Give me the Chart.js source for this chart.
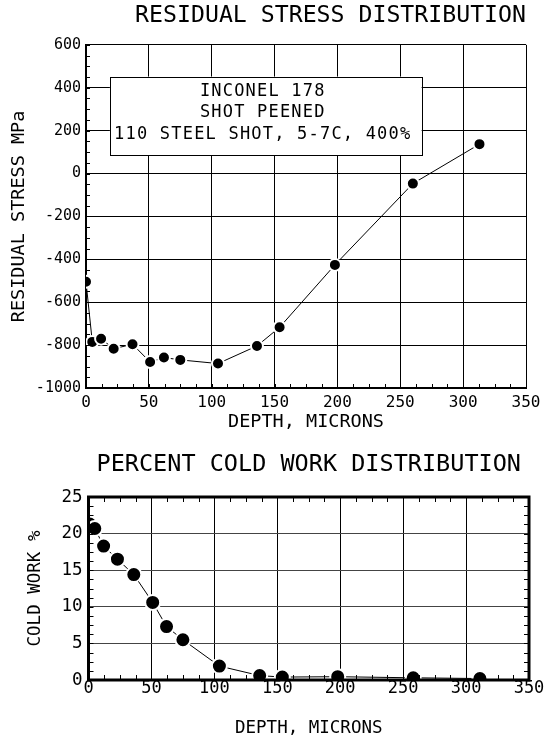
<!DOCTYPE html>
<html>
<head>
<meta charset="utf-8">
<script src="https://cdn.jsdelivr.net/npm/chart.js@4.4.0/dist/chart.umd.min.js"></script>
<style>
html,body{margin:0;padding:0;background:#fff;}
canvas{display:block;}
</style>
</head>
<body>
<canvas id="stressChart" width="547" height="440"></canvas>
<canvas id="coldChart" width="547" height="300"></canvas>
<script>
// residual stress vs depth
var stressDepth = [0, 5, 12, 22, 37, 51, 62, 75, 105, 136, 154, 198, 260, 313];
var stressMPa = [-505, -785, -770, -817, -796, -879, -858, -869, -886, -804, -717, -426, -47, 137];
var stressTicks = [-1000, -800, -600, -400, -200, 0, 200, 400, 600];
var depthTicks = [0, 50, 100, 150, 200, 250, 300, 350];

// percent cold work vs depth
var coldDepth = [1, 5, 12, 23, 36, 51, 62, 75, 104, 136, 154, 198, 258, 311];
var coldWork = [21.3, 20.7, 18.3, 16.5, 14.4, 10.6, 7.3, 5.5, 1.9, 0.6, 0.4, 0.45, 0.3, 0.2];
var coldTicks = [0, 5, 10, 15, 20, 25];

var noteLines = ['INCONEL 178', 'SHOT PEENED', '110 STEEL SHOT, 5-7C, 400%'];

var mono = "'DejaVu Sans Mono', 'Liberation Mono', monospace";

function pairs(xs, ys) {
    return xs.map(function (x, i) { return {x: x, y: ys[i]}; });
}

function useTicks(list) {
    return function (scale) {
        scale.ticks = list.map(function (v) { return {value: v}; });
    };
}

// small inward tick marks + optional heavy frame
var minorTicks = {
    id: 'minorTicks',
    afterDatasetsDraw: function (chart, args, opts) {
        var ctx = chart.ctx, a = chart.chartArea;
        var xs = chart.scales.x, ys = chart.scales.y;
        var len = opts.len;
        ctx.save();
        ctx.strokeStyle = '#000';
        ctx.lineWidth = 1;
        ctx.beginPath();
        for (var v = xs.min; v <= xs.max + 0.001; v += opts.xStep) {
            var px = Math.round(xs.getPixelForValue(v)) + 0.5;
            ctx.moveTo(px, a.bottom);
            ctx.lineTo(px, a.bottom - len);
            if (opts.all) {
                ctx.moveTo(px, a.top);
                ctx.lineTo(px, a.top + len);
            }
        }
        for (var w = ys.min; w <= ys.max + 0.001; w += opts.yStep) {
            var py = Math.round(ys.getPixelForValue(w)) + 0.5;
            ctx.moveTo(a.left, py);
            ctx.lineTo(a.left + len, py);
            if (opts.all) {
                ctx.moveTo(a.right, py);
                ctx.lineTo(a.right - len, py);
            }
        }
        ctx.stroke();
        if (opts.frame) {
            ctx.lineWidth = opts.frame;
            ctx.strokeRect(a.left, a.top, a.right - a.left, a.bottom - a.top);
        }
        ctx.restore();
    }
};

// legend-like note box on the stress chart
var noteBox = {
    id: 'noteBox',
    beforeDatasetsDraw: function (chart) {
        if (chart.canvas.id !== 'stressChart') return;
        var ctx = chart.ctx, xs = chart.scales.x, ys = chart.scales.y;
        var l = xs.getPixelForValue(19), r = xs.getPixelForValue(267);
        var t = ys.getPixelForValue(452), b = ys.getPixelForValue(86);
        ctx.save();
        ctx.fillStyle = '#fff';
        ctx.fillRect(l, t, r - l, b - t);
        ctx.strokeStyle = '#000';
        ctx.lineWidth = 1;
        ctx.strokeRect(Math.round(l) + 0.5, Math.round(t) + 0.5, Math.round(r - l), Math.round(b - t));
        ctx.fillStyle = '#000';
        ctx.font = '17px ' + mono;
        ctx.letterSpacing = '1.2px';
        ctx.textAlign = 'center';
        ctx.textBaseline = 'middle';
        var rows = [0.19, 0.46, 0.74];
        noteLines.forEach(function (txt, i) {
            ctx.fillText(txt, (l + r) / 2 - 3, t + (b - t) * rows[i]);
        });
        ctx.restore();
    }
};

new Chart(document.getElementById('stressChart').getContext('2d'), {
    type: 'line',
    data: {
        datasets: [{
            data: pairs(stressDepth, stressMPa),
            borderColor: '#000',
            borderWidth: 1,
            pointRadius: 6,
            pointBackgroundColor: '#000',
            pointBorderColor: '#fff',
            pointBorderWidth: 2,
            clip: 0,
            tension: 0
        }]
    },
    options: {
        responsive: false,
        animation: false,
        layout: {padding: {left: 0, right: 21, top: 0, bottom: 0}},
        plugins: {
            legend: {display: false},
            tooltip: {enabled: false},
            title: {
                display: true,
                text: 'RESIDUAL STRESS DISTRIBUTION',
                color: '#000',
                fullSize: false,
                align: 'end',
                font: {family: mono, size: 23.2, weight: 'normal'},
                padding: {top: 2, bottom: 15}
            },
            minorTicks: {len: 4, xStep: 12.5, yStep: 50, all: false, frame: 0}
        },
        scales: {
            x: {
                type: 'linear', min: 0, max: 350,
                afterBuildTicks: useTicks(depthTicks),
                afterFit: function (s) { s.height = 52; },
                grid: {color: '#000', lineWidth: 1, drawTicks: false},
                border: {color: '#000', width: 2},
                ticks: {
                    color: '#000', padding: 5, maxRotation: 0, autoSkip: false,
                    font: {family: mono, size: 16},
                    callback: function (v) { return String(v); }
                },
                title: {
                    display: true, text: 'DEPTH, MICRONS', color: '#000',
                    font: {family: mono, size: 18.5}, padding: {top: 0, bottom: 7}
                }
            },
            y: {
                type: 'linear', min: -1000, max: 600,
                afterBuildTicks: useTicks(stressTicks),
                afterFit: function (s) { s.width = 86; },
                grid: {color: '#000', lineWidth: 1, drawTicks: false},
                border: {color: '#000', width: 2},
                ticks: {
                    color: '#000', padding: 5,
                    font: {family: mono, size: 15},
                    callback: function (v) { return String(v); }
                },
                title: {
                    display: true, text: 'RESIDUAL STRESS MPa', color: '#000',
                    font: {family: mono, size: 18.5}, padding: {top: 8, bottom: 0}
                }
            }
        }
    },
    plugins: [noteBox, minorTicks]
});

new Chart(document.getElementById('coldChart').getContext('2d'), {
    type: 'line',
    data: {
        datasets: [{
            data: pairs(coldDepth, coldWork),
            borderColor: '#000',
            borderWidth: 1,
            pointRadius: 7.5,
            pointBackgroundColor: '#000',
            pointBorderColor: '#fff',
            pointBorderWidth: 2,
            clip: 0,
            tension: 0
        }]
    },
    options: {
        responsive: false,
        animation: false,
        layout: {padding: {left: 0, right: 18, top: 0, bottom: 0}},
        plugins: {
            legend: {display: false},
            tooltip: {enabled: false},
            title: {
                display: true,
                text: 'PERCENT COLD WORK DISTRIBUTION',
                color: '#000',
                fullSize: false,
                font: {family: mono, size: 23.5, weight: 'normal'},
                padding: {top: 10.5, bottom: 18.3}
            },
            minorTicks: {len: 5, xStep: 12.5, yStep: 1.25, all: true, frame: 3}
        },
        scales: {
            x: {
                type: 'linear', min: 0, max: 350,
                afterBuildTicks: useTicks(depthTicks),
                afterFit: function (s) { s.height = 60; },
                grid: {color: '#000', lineWidth: 1, drawTicks: false},
                border: {display: false},
                ticks: {
                    color: '#000', padding: 0, maxRotation: 0, autoSkip: false,
                    font: {family: mono, size: 17, lineHeight: 1},
                    callback: function (v) { return String(v); }
                },
                title: {
                    display: true, text: 'DEPTH, MICRONS', color: '#000',
                    font: {family: mono, size: 17.5}, padding: {top: 0, bottom: 1.5}
                }
            },
            y: {
                type: 'linear', min: 0, max: 25,
                afterBuildTicks: useTicks(coldTicks),
                afterFit: function (s) { s.width = 88.5; },
                grid: {color: '#444', lineWidth: 1, drawTicks: false},
                border: {display: false},
                ticks: {
                    color: '#000', padding: 6,
                    font: {family: mono, size: 17.5},
                    callback: function (v) { return String(v); }
                },
                title: {
                    display: true, text: 'COLD WORK %', color: '#000',
                    font: {family: mono, size: 17.5}, padding: {top: 24.5, bottom: 0}
                }
            }
        }
    },
    plugins: [minorTicks]
});
</script>
</body>
</html>
